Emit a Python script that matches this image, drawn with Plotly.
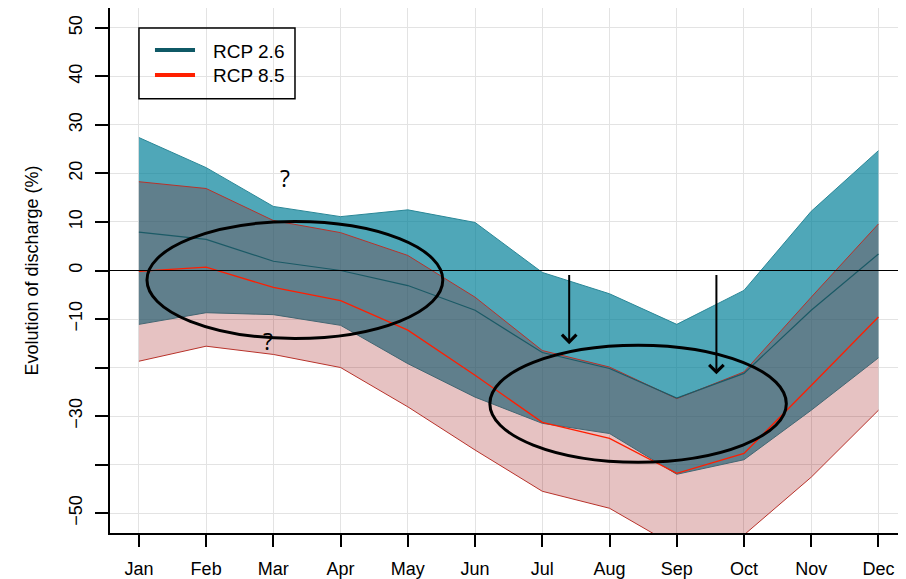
import plotly.graph_objects as go

# ---------------- data ----------------
months = ["Jan", "Feb", "Mar", "Apr", "May", "Jun",
          "Jul", "Aug", "Sep", "Oct", "Nov", "Dec"]
month_idx = list(range(1, 13))

rcp26_upper = [27.4, 21.2, 13.2, 11.1, 12.5, 9.9, -0.4, -4.8, -11.1, -4.1, 12.2, 24.7]
rcp26_median = [7.9, 6.4, 1.9, 0.0, -3.1, -8.2, -16.9, -20.2, -26.3, -21.2, -8.2, 3.4]
rcp26_lower = [-11.1, -8.7, -9.1, -11.3, -19.2, -26.1, -31.5, -33.6, -42.0, -39.0, -28.8, -18.0]

rcp85_upper = [18.3, 16.9, 10.3, 7.8, 3.1, -5.5, -16.5, -19.9, -26.4, -20.9, -5.5, 9.6]
rcp85_median = [-0.2, 0.7, -3.5, -6.2, -12.3, -21.6, -31.3, -34.6, -41.8, -37.7, -23.7, -9.6]
rcp85_lower = [-18.7, -15.6, -17.3, -20.0, -28.1, -37.0, -45.5, -49.0, -57.0, -54.5, -42.6, -28.8]

y_ticks = [-50, -40, -30, -20, -10, 0, 10, 20, 30, 40, 50]
y_tick_text = ["\u221250", "", "\u221230", "", "\u221210", "0", "10", "20", "30", "40", "50"]

series_names = ["RCP 2.6", "RCP 8.5"]

# ---------------- styles ----------------
FONT = "Liberation Sans, Arial, sans-serif"
teal_fill = "rgba(0,128,152,0.69)"
teal_edge = "#2A8797"
teal_med = "#1B5A66"
red_fill = "rgba(150,0,0,0.24)"
red_edge = "#B8322A"
red_med = "#FF1E00"
legend_colors = ["#0F5966", "#FF2000"]

fig = go.Figure()

# RCP 2.6 band
fig.add_trace(go.Scatter(x=month_idx, y=rcp26_lower, mode="lines",
                         line=dict(color=teal_edge, width=1), showlegend=False,
                         hoverinfo="skip"))
fig.add_trace(go.Scatter(x=month_idx, y=rcp26_upper, mode="lines", fill="tonexty",
                         fillcolor=teal_fill, line=dict(color=teal_edge, width=1),
                         showlegend=False, hoverinfo="skip"))
# RCP 8.5 band
fig.add_trace(go.Scatter(x=month_idx, y=rcp85_lower, mode="lines",
                         line=dict(color=red_edge, width=1), showlegend=False,
                         hoverinfo="skip"))
fig.add_trace(go.Scatter(x=month_idx, y=rcp85_upper, mode="lines", fill="tonexty",
                         fillcolor=red_fill, line=dict(color=red_edge, width=1),
                         showlegend=False, hoverinfo="skip"))
# medians
fig.add_trace(go.Scatter(x=month_idx, y=rcp26_median, mode="lines", name=series_names[0],
                         line=dict(color=teal_med, width=1.2), showlegend=False))
fig.add_trace(go.Scatter(x=month_idx, y=rcp85_median, mode="lines", name=series_names[1],
                         line=dict(color=red_med, width=1.3), showlegend=False))

# zero line over the bands
fig.add_shape(type="line", xref="paper", x0=0, x1=1, yref="y", y0=0, y1=0,
              line=dict(color="black", width=1), layer="above")

# hand-drawn ellipses
fig.add_shape(type="circle", xref="x", yref="y", x0=1.12, x1=5.52, y0=-14.0, y1=10.1,
              line=dict(color="black", width=3), layer="above")
fig.add_shape(type="circle", xref="x", yref="y", x0=6.22, x1=10.63, y0=-39.5, y1=-15.4,
              line=dict(color="black", width=3), layer="above")

# arrows
for xa, ytip in [(7.40, -15.2), (9.59, -21.4)]:
    fig.add_annotation(x=xa, y=ytip, ax=xa, ay=-0.6, xref="x", yref="y",
                       axref="x", ayref="y", text="", showarrow=True,
                       arrowhead=4, arrowsize=1.4, arrowwidth=2, arrowcolor="black")

# question marks
fig.add_annotation(x=3.17, y=19.1, xref="x", yref="y", text="?", showarrow=False,
                   font=dict(family="Open Sans, sans-serif", size=23, color="black"))
fig.add_annotation(x=2.92, y=-14.6, xref="x", yref="y", text="?", showarrow=False,
                   font=dict(family="Open Sans, sans-serif", size=23, color="black"))

# legend box (R-style, transparent background)
fig.add_shape(type="rect", xref="paper", yref="paper", x0=0.0364, x1=0.2324,
              y0=0.827, y1=0.962, line=dict(color="black", width=1.5),
              fillcolor="rgba(0,0,0,0)", layer="above")
for i, (nm, col) in enumerate(zip(series_names, legend_colors)):
    yy = 0.920 - i * 0.0475
    fig.add_shape(type="line", xref="paper", yref="paper", x0=0.0565, x1=0.1068,
                  y0=yy, y1=yy, line=dict(color=col, width=4), layer="above")
    fig.add_annotation(x=0.1269, y=yy - 0.002, xref="paper", yref="paper", text=nm,
                       showarrow=False, xanchor="left", yanchor="middle",
                       font=dict(family=FONT, size=19, color="black"))

# the page body adds an 8px offset, so the figure is sized to fit the window
fig.update_layout(
    width=898, height=571,
    margin=dict(l=102, r=0, t=0, b=46),
    plot_bgcolor="white", paper_bgcolor="white",
    font=dict(family=FONT, size=18, color="black"),
    showlegend=False,
)

fig.update_xaxes(
    range=[0.57, 12.41], tickvals=month_idx, ticktext=months,
    showgrid=True, gridcolor="#E3E3E3", gridwidth=1,
    showline=True, linecolor="black", linewidth=2, mirror=True,
    ticks="outside", ticklen=12, tickwidth=1.5, tickcolor="black",
    ticklabelstandoff=6, zeroline=False, automargin=False,
    tickfont=dict(size=18),
)
fig.update_yaxes(
    range=[-54.1, 54.1], tickvals=y_ticks, ticktext=y_tick_text,
    tickangle=-90,
    showgrid=True, gridcolor="#E3E3E3", gridwidth=1,
    showline=True, linecolor="black", linewidth=2, mirror=False,
    ticks="outside", ticklen=13, tickwidth=1.5, tickcolor="black",
    ticklabelstandoff=6, zeroline=False, automargin=False,
    tickfont=dict(size=18),
    title=dict(text="Evolution of discharge (%)", standoff=22, font=dict(size=18)),
)

fig.write_html("out.html")
